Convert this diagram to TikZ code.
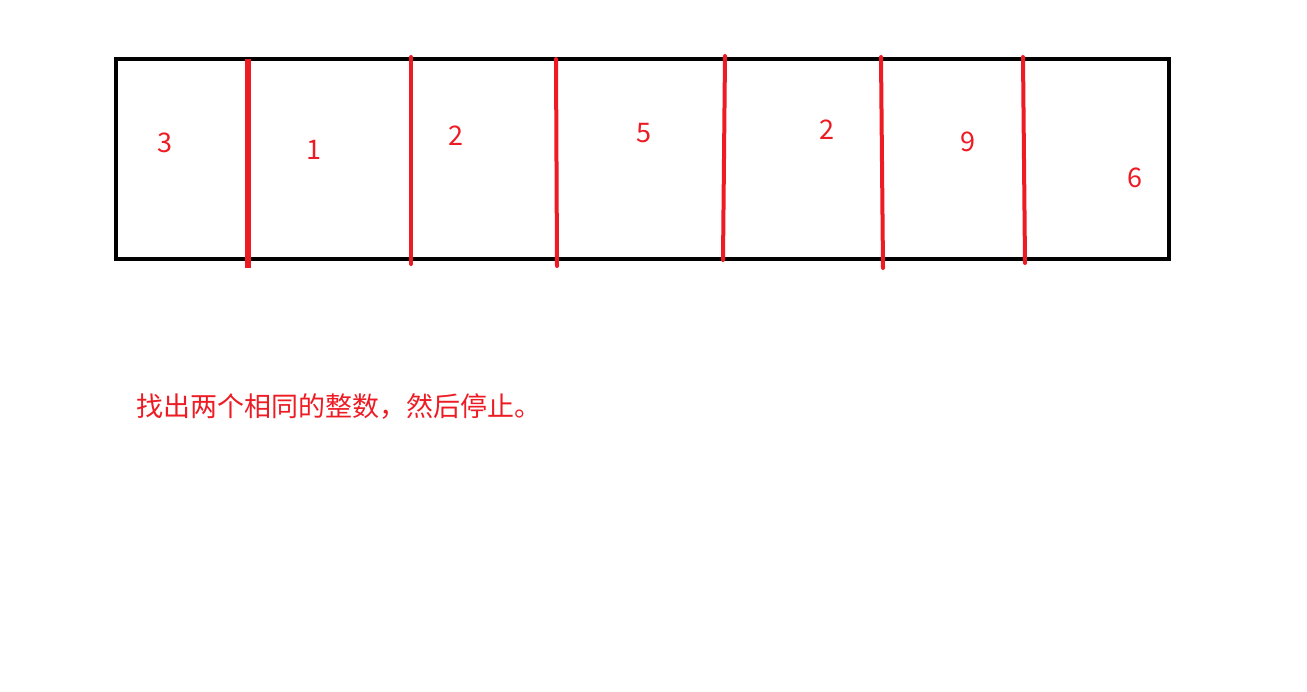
\documentclass[tikz,border=0pt]{standalone}
\usepackage{fontspec}
\setmainfont{Noto Sans CJK SC}
\definecolor{paintred}{RGB}{237,28,36}
\begin{document}
\begin{tikzpicture}[x=1pt,y=-1pt]

      \useasboundingbox (0,0) rectangle (1307,692);

      \draw[line width=4pt] (116,59) rectangle (1169,259);

      \begin{scope}[every node/.style={text=paintred,inner sep=0pt,font=\fontsize{27}{32}\selectfont}]
        \node (n1) at (165,143) {3};
        \node (n2) at (314,150) {1};
        \node (n3) at (456,136) {2};
        \node (n4) at (644,133) {5};
        \node (n5) at (827,130) {2};
        \node (n6) at (968,142) {9};
        \node (n7) at (1135,178) {6};
        \node[anchor=west] (msg) at (136,406) {找出两个相同的整数，然后停止。};
      \end{scope}

      \coordinate (t1) at (248,59);  \coordinate (b1) at (248,268);
      \coordinate (t2) at (411,57);  \coordinate (b2) at (411,264);
      \coordinate (t3) at (556,59);  \coordinate (b3) at (557,266);
      \coordinate (t4) at (725,56);  \coordinate (b4) at (723,260);
      \coordinate (t5) at (881,57);  \coordinate (b5) at (883,268);
      \coordinate (t6) at (1023,57); \coordinate (b6) at (1025,263);

      \begin{scope}[paintred,line width=4pt,line cap=round]
        \draw[line width=6pt,line cap=butt] (t1) -- (b1);
        \draw (t2) -- (b2);
        \draw (t3) -- (b3);
        \draw (t4) -- (b4);
        \draw (t5) -- (b5);
        \draw (t6) -- (b6);
      \end{scope}

    \end{tikzpicture}
\end{document}
